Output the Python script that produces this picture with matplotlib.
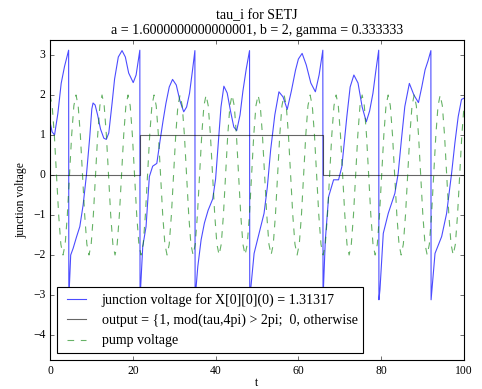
import numpy as np
import matplotlib
matplotlib.use('Agg')
import matplotlib.pyplot as plt

plt.style.use('classic')
plt.rcParams['font.family'] = ['Liberation Serif', 'DejaVu Serif']
plt.rcParams['font.size'] = 10.5
plt.rcParams['xtick.major.pad'] = 4.5

# junction voltage (wraps from +pi down to -pi at each tunneling event)
jv_t = [0, 0.5, 1.1, 1.9, 2.7, 3.5, 4.5,
        4.55, 5.0, 5.6, 6.4, 7.2, 8.0, 8.8, 9.6, 10.1, 10.4, 10.9, 11.5, 12.2, 13.0, 13.6,
        14.2, 15.0, 15.6, 16.5, 17.4, 18.2, 19.0, 20.1, 20.8, 21.3, 21.7,
        21.75, 22.4, 23.2, 24.0, 24.8, 25.8, 26.6, 27.3, 28.0, 28.8, 29.6, 30.5, 31.4,
        32.3, 33.0, 33.7, 34.4, 35.0,
        35.05, 35.7, 36.5, 37.3, 38.2, 39.3, 40.0, 40.7, 41.3, 42.0, 42.8, 43.6, 44.4,
        45.1, 45.9, 46.6, 47.4, 48.2,
        48.25, 49.3, 50.5, 51.7, 52.5, 53.3, 54.3, 55.3, 56.3, 57.3, 58.3, 59.3, 60.0,
        60.9, 61.9, 63.0, 64.1, 65.0, 65.9,
        65.95, 66.5, 67.3, 68.5, 69.7, 70.5, 71.7, 72.5, 73.4, 74.4, 75.4, 76.4, 77.2,
        78.0, 78.7, 79.4,
        79.45, 79.7, 80.5, 81.7, 83.3, 84.1, 84.9, 85.7, 86.8, 87.9, 89.0, 89.8, 90.6,
        91.3, 92.0,
        92.05, 93.0, 94.6, 95.8, 97.0, 97.8, 98.6, 99.4, 100]
jv = [1.33, 1.08, 1.0, 1.54, 2.29, 2.71, 3.12,
      -3.1, -2.0, -1.83, -1.55, -1.29, -0.75, 0.0, 0.95, 1.65, 1.8, 1.75, 1.5, 1.15, 0.92, 0.89,
      1.05, 1.8, 2.4, 2.95, 3.11, 2.95, 2.55, 2.31, 2.5, 2.85, 3.12,
      -3.1, -1.79, -1.29, -0.04, 0.22, 0.29, 0.87, 1.35, 1.79, 2.2, 2.39, 2.25, 1.85,
      1.58, 1.7, 2.04, 2.6, 3.11,
      -3.1, -2.29, -1.62, -1.2, -0.88, -0.6, -0.1, 0.87, 1.7, 2.22, 2.05, 1.6, 1.2,
      1.11, 1.5, 2.1, 2.65, 3.11,
      -3.1, -1.96, -1.46, -0.96, -0.3, 0.63, 1.5, 2.08, 1.95, 1.64, 2.1, 2.62, 2.9,
      3.04, 2.75, 2.3, 2.08, 2.5, 3.12,
      -3.1, -1.63, -0.54, -0.12, -0.12, 0.21, 1.46, 2.2, 2.5, 2.3, 1.7, 1.33, 1.6,
      2.04, 2.6, 3.12,
      -3.12, -2.87, -1.46, -0.96, -0.46, 0.04, 0.9, 1.71, 2.29, 2.0, 1.81, 2.2, 2.63,
      2.85, 3.11,
      -3.12, -1.96, -1.54, -0.96, 0.04, 0.8, 1.46, 1.89, 1.92]

# output flag, switches at the tunneling events
out_t = [0, 21.75, 65.95, 100]
out_v = [0, 1, 0, 0]

# pump voltage, sampled every pi/6
pump_v = [
    2, 1.73, 1, 0, -1, -1.73, -2, -1.73, -1, 0, 1, 1.73,
    2, 1.73, 1, 0, -1, -1.73, -2, -1.73, -1, 0, 1, 1.73,
    2, 1.73, 1, 0, -1, -1.73, -2, -1.73, -1, 0, 1, 1.73,
    2, 1.73, 1, 0, -1, -1.73, -2, -1.73, -1, 0, 1, 1.73,
    2, 1.73, 1, 0, -1, -1.73, -2, -1.73, -1, 0, 1, 1.73,
    2, 1.73, 1, 0, -1, -1.73, -2, -1.73, -1, 0, 1, 1.73,
    2, 1.73, 1, 0, -1, -1.73, -2, -1.73, -1, 0, 1, 1.73,
    2, 1.73, 1, 0, -1, -1.73, -2, -1.73, -1, 0, 1, 1.73,
    2, 1.73, 1, 0, -1, -1.73, -2, -1.73, -1, 0, 1, 1.73,
    2, 1.73, 1, 0, -1, -1.73, -2, -1.73, -1, 0, 1, 1.73,
    2, 1.73, 1, 0, -1, -1.73, -2, -1.73, -1, 0, 1, 1.73,
    2, 1.73, 1, 0, -1, -1.73, -2, -1.73, -1, 0, 1, 1.73,
    2, 1.73, 1, 0, -1, -1.73, -2, -1.73, -1, 0, 1, 1.73,
    2, 1.73, 1, 0, -1, -1.73, -2, -1.73, -1, 0, 1, 1.73,
    2, 1.73, 1, 0, -1, -1.73, -2, -1.73, -1, 0, 1, 1.73,
    2, 1.73, 1, 0, -1, -1.73, -2, -1.73, -1, 0, 1,
]
pump_t = list(np.arange(len(pump_v)) * np.pi / 6)
pump_t.append(100)
pump_v.append(1.72)

fig = plt.figure(figsize=(482 / 80., 389 / 80.), dpi=80)
ax = fig.add_axes([50 / 482., 29 / 389., 414 / 482., 320 / 389.])

ax.plot(jv_t, jv, color='b', alpha=0.7,
        label='junction voltage for X[0][0](0) = 1.31317')
ax.plot(out_t, out_v, color='k', alpha=0.6, drawstyle='steps-post',
        label='output = {1, mod(tau,4pi) > 2pi;  0, otherwise')
ax.plot(pump_t, pump_v, color='g', alpha=0.6, linestyle='--', label='pump voltage')

ax.set_xlim(0, 100)
ax.set_ylim(-4.625, 3.375)
ax.set_xticks([0, 20, 40, 60, 80, 100])
ax.set_yticks([-4, -3, -2, -1, 0, 1, 2, 3])
ax.set_xlabel('t', labelpad=0)
ax.set_ylabel('junction voltage')
ax.set_title('tau_i for SETJ\na = 1.6000000000000001, b = 2, gamma = 0.333333')
ax.legend(loc='lower left')

fig.savefig('out.png', dpi=80, facecolor='w')
